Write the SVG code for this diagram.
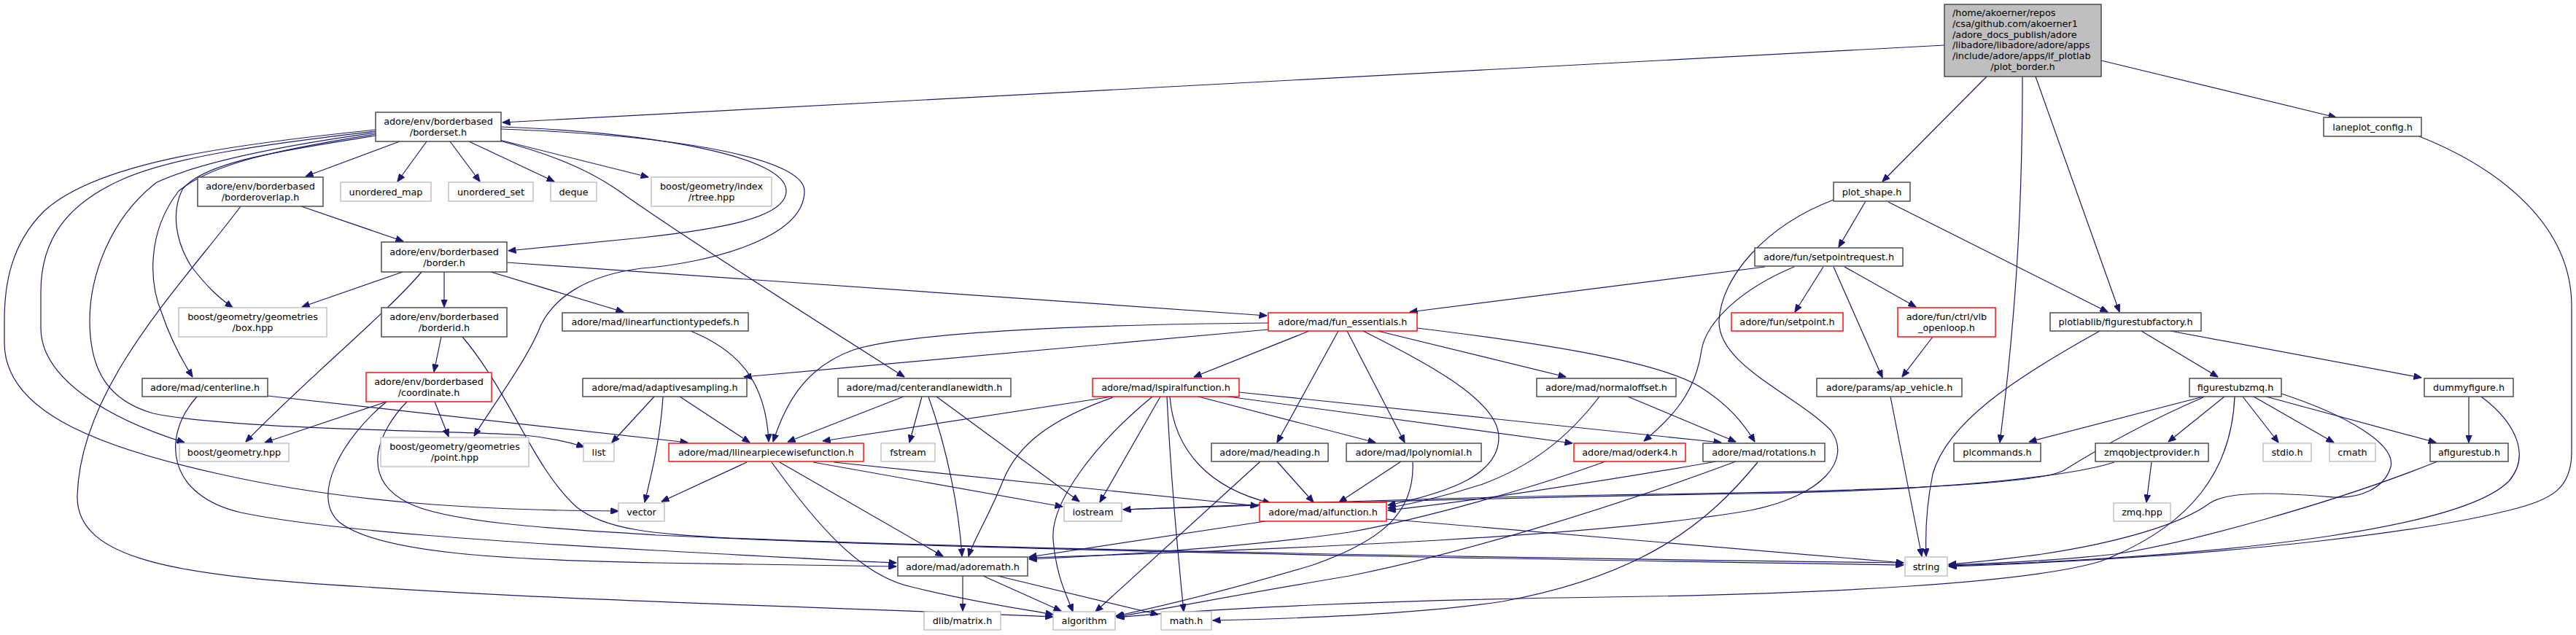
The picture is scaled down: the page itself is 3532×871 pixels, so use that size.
<svg xmlns="http://www.w3.org/2000/svg" width="3532" height="871" viewBox="0 0 3532 871">
<style>
rect{stroke-width:1.4}
.n rect{fill:#fff;stroke:#404040}
.x rect{fill:#fff;stroke:#bfbfbf}
.r rect{fill:#fff;stroke:#ff0000}
.root rect{fill:#bfbfbf;stroke:#404040}
text{font-family:"DejaVu Sans","Liberation Sans",sans-serif;font-size:12.8px;fill:#000;text-anchor:middle}
.l{text-anchor:start}
#edges path{fill:none;stroke:#191970;stroke-width:1.2;marker-end:url(#a)}
</style>
<defs>
<marker id="a" viewBox="0 0 11 9" markerWidth="11" markerHeight="9" markerUnits="userSpaceOnUse" refX="10.5" refY="4.5" orient="auto">
<path d="M0,0 L11,4.5 L0,9 z" fill="#191970" stroke="#191970" stroke-width="0.8"/>
</marker>
</defs>
<rect width="3532" height="871" fill="#fff"/>
<g id="edges">
<path d="M2666,62 L689,168"/>
<path d="M2724,105 L2581,249"/>
<path d="M2773,105 C2773,300 2762,450 2742,607"/>
<path d="M2791,105 L2906,428"/>
<path d="M2881,83 L3203,161"/>
<path d="M3317,187 C3430,232 3526,310 3526,420 L3526,620 C3526,670 3500,685 3440,700 C3340,725 3100,762 2672,777"/>
<path d="M548,194 L419,242"/>
<path d="M585,194 L545,249"/>
<path d="M617,194 L658,249"/>
<path d="M643,194 L760,249"/>
<path d="M685,192 L889,243"/>
<path d="M687,174 C900,182 1078,215 1078,262 C1078,300 980,315 880,326 C800,334 740,340 697,344"/>
<path d="M687,177 C960,187 1103,222 1103,262 C1103,330 960,362 880,368 C800,378 760,410 742,445 C725,490 680,550 650,598"/>
<path d="M685,193 C770,215 820,240 860,270 C960,340 1150,460 1240,517"/>
<path d="M515,178 C300,200 130,225 60,290 C15,335 6,390 6,440 L6,470 C6,560 120,610 300,650 C500,695 700,700 848,701"/>
<path d="M515,180 C360,198 240,215 170,245 C90,280 56,330 56,400 L56,450 C56,520 150,575 253,607"/>
<path d="M515,182 C400,198 280,220 215,250 C150,300 123,380 123,440 C123,510 150,550 210,567 C320,590 620,590 720,597 C760,601 785,608 801,613"/>
<path d="M515,184 C380,205 290,225 245,262 C200,320 205,390 222,430 C235,468 250,495 264,517"/>
<path d="M515,186 C400,205 280,220 250,260 C235,290 240,330 262,365 C285,395 300,408 319,422"/>
<path d="M413,283 L553,331"/>
<path d="M330,283 C250,390 110,530 106,680 C104,770 250,790 500,805 C800,825 1200,835 1444,846"/>
<path d="M552,373 L414,421"/>
<path d="M578,373 C530,430 420,520 337,606"/>
<path d="M609,373 L609,421"/>
<path d="M673,373 L855,428"/>
<path d="M695,360 L1737,433"/>
<path d="M605,462 L595,510"/>
<path d="M634,462 C700,540 730,640 790,695 C830,728 900,732 1000,738 C1500,758 2300,768 2610,772"/>
<path d="M530,551 L363,607"/>
<path d="M596,551 L615,599"/>
<path d="M530,551 C470,600 425,680 465,716 C520,760 700,768 900,772 L1229,777"/>
<path d="M558,551 C520,590 490,655 560,690 C620,720 800,727 900,734 C1400,758 2300,770 2610,775"/>
<path d="M367,543 L943,607"/>
<path d="M270,544 C220,600 230,680 330,703 C450,728 700,744 900,755 C1050,763 1150,769 1229,772"/>
<path d="M897,544 L839,607"/>
<path d="M909,544 C906,600 892,655 884,689"/>
<path d="M932,544 L1028,607"/>
<path d="M947,454 C1010,480 1050,520 1054,606"/>
<path d="M1739,443 C1500,445 1250,455 1170,480 C1100,505 1075,560 1060,606"/>
<path d="M1739,452 L1020,517"/>
<path d="M1795,454 L1637,517"/>
<path d="M1835,454 L1751,607"/>
<path d="M1847,454 L1926,607"/>
<path d="M1869,454 C1960,500 2055,550 2055,600 C2055,650 1990,675 1903,693"/>
<path d="M1889,454 L2147,517"/>
<path d="M1943,450 C2150,475 2280,500 2330,530 C2370,555 2390,580 2406,606"/>
<path d="M1525,544 L1128,605"/>
<path d="M1526,545 C1440,575 1395,610 1375,660 C1355,710 1335,740 1328,763"/>
<path d="M1580,544 C1500,610 1440,690 1444,740 C1448,790 1462,815 1471,839"/>
<path d="M1591,544 L1508,689"/>
<path d="M1600,544 C1605,650 1615,760 1623,839"/>
<path d="M1604,544 C1610,620 1660,670 1742,690"/>
<path d="M1643,544 L1886,607"/>
<path d="M1684,544 L2156,608"/>
<path d="M1699,538 L2360,607"/>
<path d="M1751,633 L1801,689"/>
<path d="M1728,633 L1502,839"/>
<path d="M1921,633 L1836,689"/>
<path d="M1937,634 C1940,700 1900,740 1800,775 C1700,805 1600,830 1530,845"/>
<path d="M2232,544 L2380,606"/>
<path d="M2193,544 C2150,600 2100,640 2030,665 C1980,681 1940,690 1903,697"/>
<path d="M2201,633 C2100,670 1950,712 1850,730 C1700,752 1500,763 1411,767"/>
<path d="M2353,633 C2200,660 2000,690 1903,700"/>
<path d="M2380,633 C2200,700 2000,760 1850,790 C1700,815 1600,835 1531,846"/>
<path d="M2410,634 C2340,720 2250,790 2060,825 C1950,842 1800,848 1663,851"/>
<path d="M1735,715 L1411,764"/>
<path d="M1901,712 L2610,772"/>
<path d="M1320,790 L1320,838"/>
<path d="M1348,790 L1455,838"/>
<path d="M1368,790 L1588,843"/>
<path d="M1239,544 L1080,606"/>
<path d="M1264,544 L1247,607"/>
<path d="M1273,544 C1300,620 1315,700 1319,763"/>
<path d="M1284,544 L1480,688"/>
<path d="M1024,634 L907,688"/>
<path d="M1069,634 L1293,763"/>
<path d="M1058,634 C1120,720 1180,790 1250,805 C1330,825 1400,835 1444,843"/>
<path d="M1115,634 L1457,695"/>
<path d="M1143,634 L1725,694"/>
<path d="M2420,366 L1933,428"/>
<path d="M2500,366 L2461,428"/>
<path d="M2514,366 L2581,518"/>
<path d="M2529,366 L2627,421"/>
<path d="M2460,366 C2390,395 2340,440 2333,480 C2325,540 2290,575 2254,605"/>
<path d="M2558,276 L2521,339"/>
<path d="M2589,277 L2890,428"/>
<path d="M2514,274 C2420,310 2360,380 2357,440 C2355,500 2460,540 2510,590 C2540,630 2500,680 2400,700 C2200,735 1800,752 1411,765"/>
<path d="M2650,462 L2608,517"/>
<path d="M2592,544 L2635,763"/>
<path d="M2879,454 C2760,520 2670,580 2650,650 C2640,700 2640,740 2641,763"/>
<path d="M2936,454 L3041,517"/>
<path d="M2976,454 L3320,518"/>
<path d="M3021,544 L2782,606"/>
<path d="M3050,544 L2973,606"/>
<path d="M3075,544 L3124,607"/>
<path d="M3090,544 L3200,607"/>
<path d="M3107,544 L3340,607"/>
<path d="M3128,540 C3220,570 3285,610 3278,640 C3270,670 3235,684 3200,682 C3150,678 3060,670 3030,690 C2990,720 2900,745 2800,760 C2740,768 2700,772 2672,774"/>
<path d="M3021,545 C2940,580 2870,620 2830,645 C2790,668 2500,675 2200,679 C1900,684 1650,695 1540,699"/>
<path d="M3064,544 C3060,640 3010,720 2880,770 C2780,800 2500,815 2200,819 C1900,823 1650,835 1531,847"/>
<path d="M3385,544 L3385,607"/>
<path d="M3402,544 C3450,580 3470,625 3440,660 C3380,720 3100,762 2672,776"/>
<path d="M3342,633 C3200,690 3000,745 2900,760 C2800,771 2700,774 2672,775"/>
<path d="M2950,634 L2943,689"/>
<path d="M2899,634 C2850,650 2700,672 2400,677 C2000,683 1700,694 1540,699"/>
</g>
<g id="n0" class="root"><rect x="2666" y="6" width="215" height="99"/><text class="l" x="2677" y="22">/home/akoerner/repos</text><text class="l" x="2677" y="37">/csa/github.com/akoerner1</text><text class="l" x="2677" y="51.5">/adore_docs_publish/adore</text><text class="l" x="2677" y="66">/libadore/libadore/adore/apps</text><text class="l" x="2677" y="81">/include/adore/apps/if_plotlab</text><text x="2773.5" y="95.5">/plot_border.h</text></g>
<g id="n1" class="n"><rect x="515" y="154" width="172" height="40"/><text x="601" y="171">adore/env/borderbased</text><text x="601" y="186">/borderset.h</text></g>
<g id="n2" class="n"><rect x="271" y="243" width="172" height="40"/><text x="357" y="260">adore/env/borderbased</text><text x="357" y="275">/borderoverlap.h</text></g>
<g id="n3" class="x"><rect x="467" y="250" width="124" height="26"/><text x="529" y="267.5">unordered_map</text></g>
<g id="n4" class="x"><rect x="615" y="250" width="116" height="26"/><text x="673" y="267.5">unordered_set</text></g>
<g id="n5" class="x"><rect x="755" y="250" width="63" height="26"/><text x="786.5" y="267.5">deque</text></g>
<g id="n6" class="x"><rect x="893" y="243" width="165" height="40"/><text x="975.5" y="260">boost/geometry/index</text><text x="975.5" y="275">/rtree.hpp</text></g>
<g id="n7" class="n"><rect x="523" y="332" width="172" height="41"/><text x="609" y="349.5">adore/env/borderbased</text><text x="609" y="364.5">/border.h</text></g>
<g id="n8" class="x"><rect x="245" y="422" width="203" height="40"/><text x="346.5" y="439">boost/geometry/geometries</text><text x="346.5" y="454">/box.hpp</text></g>
<g id="n9" class="n"><rect x="523" y="422" width="172" height="40"/><text x="609" y="439">adore/env/borderbased</text><text x="609" y="454">/borderid.h</text></g>
<g id="n10" class="n"><rect x="771" y="429" width="255" height="25"/><text x="898.5" y="446">adore/mad/linearfunctiontypedefs.h</text></g>
<g id="n11" class="n"><rect x="195" y="519" width="172" height="25"/><text x="281" y="536">adore/mad/centerline.h</text></g>
<g id="n12" class="r"><rect x="502" y="511" width="172" height="40"/><text x="588" y="528">adore/env/borderbased</text><text x="588" y="543">/coordinate.h</text></g>
<g id="n13" class="n"><rect x="799" y="519" width="225" height="25"/><text x="911.5" y="536">adore/mad/adaptivesampling.h</text></g>
<g id="n14" class="x"><rect x="246" y="608" width="150" height="25"/><text x="321" y="625">boost/geometry.hpp</text></g>
<g id="n15" class="x"><rect x="522" y="600" width="203" height="40"/><text x="623.5" y="617">boost/geometry/geometries</text><text x="623.5" y="632">/point.hpp</text></g>
<g id="n16" class="x"><rect x="800" y="608" width="42" height="25"/><text x="821" y="625">list</text></g>
<g id="n17" class="x"><rect x="848" y="690" width="63" height="25"/><text x="879.5" y="707">vector</text></g>
<g id="n18" class="n"><rect x="1149" y="519" width="237" height="25"/><text x="1267.5" y="536">adore/mad/centerandlanewidth.h</text></g>
<g id="n19" class="r"><rect x="1498" y="519" width="201" height="25"/><text x="1598.5" y="536">adore/mad/lspiralfunction.h</text></g>
<g id="n20" class="r"><rect x="917" y="608" width="267" height="25"/><text x="1050.5" y="625">adore/mad/llinearpiecewisefunction.h</text></g>
<g id="n21" class="x"><rect x="1208" y="608" width="74" height="25"/><text x="1245" y="625">fstream</text></g>
<g id="n22" class="x"><rect x="1459" y="690" width="79" height="25"/><text x="1498.5" y="707">iostream</text></g>
<g id="n23" class="n"><rect x="1231" y="764" width="178" height="26"/><text x="1320" y="781.5">adore/mad/adoremath.h</text></g>
<g id="n24" class="x"><rect x="1267" y="839" width="105" height="25"/><text x="1319.5" y="856">dlib/matrix.h</text></g>
<g id="n25" class="x"><rect x="1444" y="839" width="85" height="25"/><text x="1486.5" y="856">algorithm</text></g>
<g id="n26" class="x"><rect x="1592" y="839" width="69" height="25"/><text x="1626.5" y="856">math.h</text></g>
<g id="n27" class="n"><rect x="1661" y="608" width="160" height="25"/><text x="1741" y="625">adore/mad/heading.h</text></g>
<g id="n28" class="r"><rect x="1727" y="689" width="174" height="26"/><text x="1814" y="706.5">adore/mad/alfunction.h</text></g>
<g id="n29" class="r"><rect x="1739" y="429" width="204" height="25"/><text x="1841" y="446">adore/mad/fun_essentials.h</text></g>
<g id="n30" class="n"><rect x="2107" y="519" width="191" height="25"/><text x="2202.5" y="536">adore/mad/normaloffset.h</text></g>
<g id="n31" class="n"><rect x="1846" y="608" width="185" height="25"/><text x="1938.5" y="625">adore/mad/lpolynomial.h</text></g>
<g id="n32" class="r"><rect x="2158" y="608" width="153" height="25"/><text x="2234.5" y="625">adore/mad/oderk4.h</text></g>
<g id="n33" class="n"><rect x="2335" y="608" width="167" height="25"/><text x="2418.5" y="625">adore/mad/rotations.h</text></g>
<g id="n34" class="r"><rect x="2374" y="429" width="153" height="25"/><text x="2450.5" y="446">adore/fun/setpoint.h</text></g>
<g id="n35" class="r"><rect x="2602" y="422" width="134" height="40"/><text x="2669" y="439">adore/fun/ctrl/vlb</text><text x="2669" y="454">_openloop.h</text></g>
<g id="n36" class="n"><rect x="2491" y="519" width="199" height="25"/><text x="2590.5" y="536">adore/params/ap_vehicle.h</text></g>
<g id="n37" class="x"><rect x="2612" y="764" width="58" height="26"/><text x="2641" y="781.5">string</text></g>
<g id="n38" class="n"><rect x="2514" y="250" width="105" height="26"/><text x="2566.5" y="267.5">plot_shape.h</text></g>
<g id="n39" class="n"><rect x="2406" y="340" width="203" height="25"/><text x="2507.5" y="357">adore/fun/setpointrequest.h</text></g>
<g id="n40" class="n"><rect x="3186" y="161" width="134" height="26"/><text x="3253" y="178.5">laneplot_config.h</text></g>
<g id="n41" class="n"><rect x="2811" y="429" width="207" height="25"/><text x="2914.5" y="446">plotlablib/figurestubfactory.h</text></g>
<g id="n42" class="n"><rect x="3002" y="519" width="126" height="25"/><text x="3065" y="536">figurestubzmq.h</text></g>
<g id="n43" class="n"><rect x="3324" y="519" width="122" height="25"/><text x="3385" y="536">dummyfigure.h</text></g>
<g id="n44" class="n"><rect x="2679" y="608" width="119" height="25"/><text x="2738.5" y="625">plcommands.h</text></g>
<g id="n45" class="n"><rect x="2873" y="608" width="155" height="25"/><text x="2950.5" y="625">zmqobjectprovider.h</text></g>
<g id="n46" class="x"><rect x="3103" y="608" width="66" height="25"/><text x="3136" y="625">stdio.h</text></g>
<g id="n47" class="x"><rect x="3194" y="608" width="63" height="25"/><text x="3225.5" y="625">cmath</text></g>
<g id="n48" class="n"><rect x="3332" y="608" width="107" height="25"/><text x="3385.5" y="625">afigurestub.h</text></g>
<g id="n49" class="x"><rect x="2898" y="690" width="78" height="25"/><text x="2937" y="707">zmq.hpp</text></g>
</svg>
